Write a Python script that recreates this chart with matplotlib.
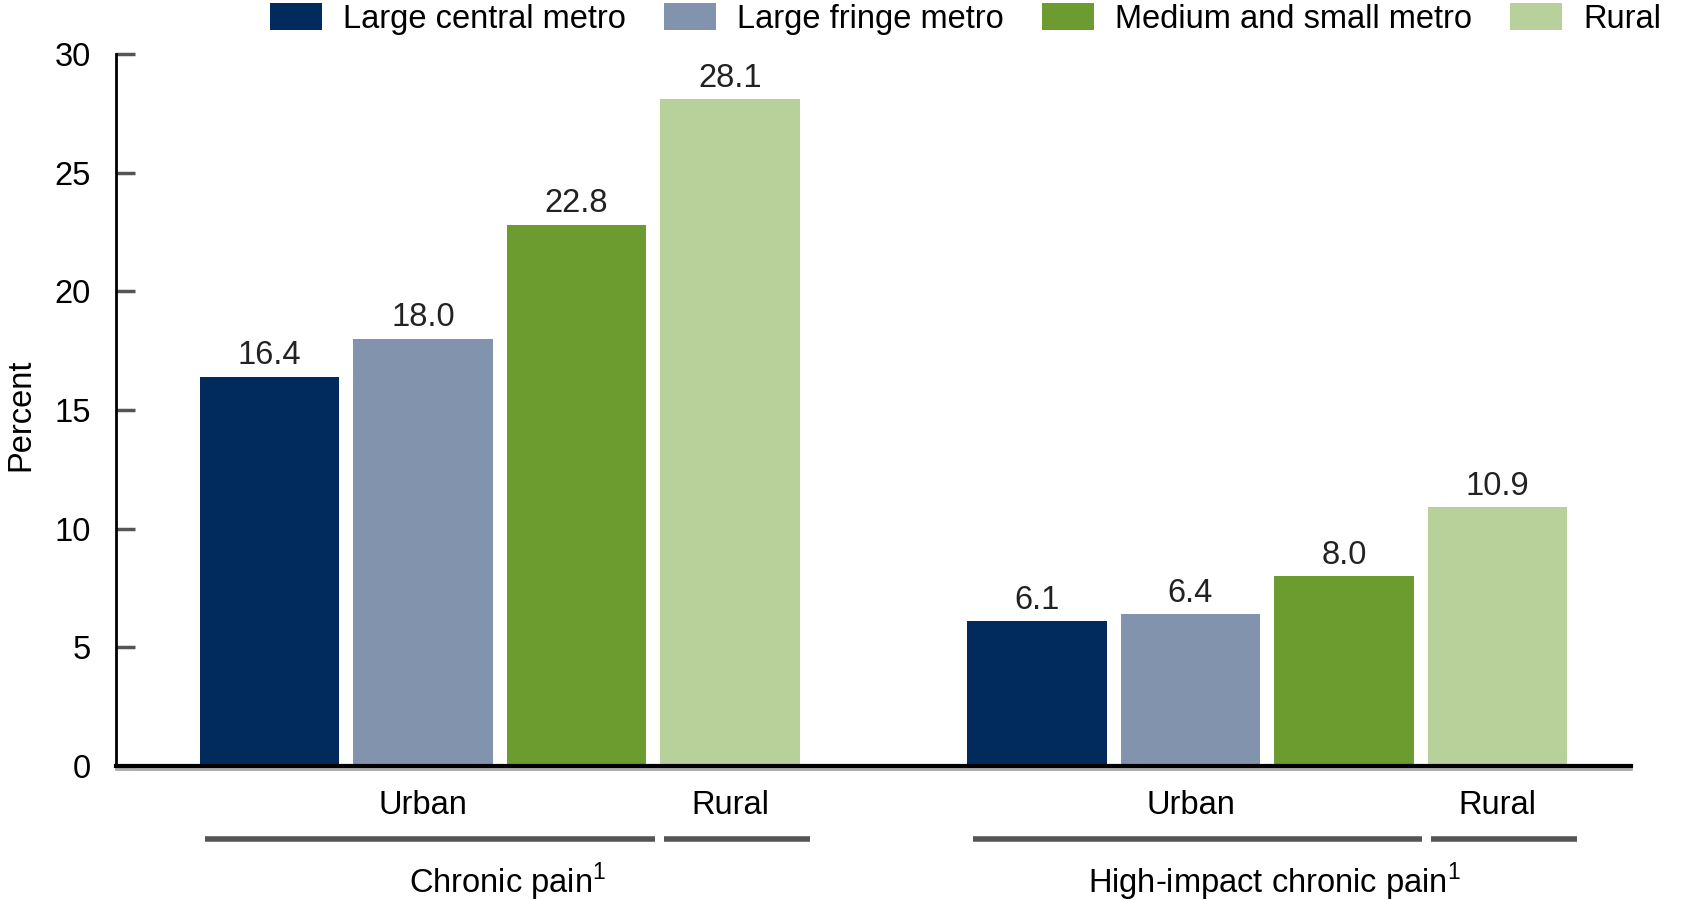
import numpy as np
import matplotlib.pyplot as plt

plt.rcParams['font.family'] = ['Liberation Sans', 'DejaVu Sans']
plt.rcParams['mathtext.fontset'] = 'custom'
plt.rcParams['mathtext.rm'] = 'Liberation Sans'

# Porcentajes por tipo de residencia
series = ["Large central metro", "Large fringe metro", "Medium and small metro", "Rural"]
colores = ["#002b5c", "#8193ad", "#6c9c30", "#b8d09a"]
grupos = ["Chronic pain$^\\mathregular{1}$", "High-impact chronic pain$^\\mathregular{1}$"]
cronico = [16.4, 18.0, 22.8, 28.1]
alto_impacto = [6.1, 6.4, 8.0, 10.9]
valores = np.array([cronico, alto_impacto])

fs = 23.5

fig = plt.figure(figsize=(16.83, 9), dpi=100)
ax = fig.add_axes([116 / 1683, 1 - 766 / 900, 1515 / 1683, 712 / 900])

inicio = np.array([1, 6])
ancho = 0.91
for i, (nombre, color) in enumerate(zip(series, colores)):
    barras = ax.bar(inicio + i, valores[:, i], width=ancho, color=color, label=nombre)
    ax.bar_label(barras, fmt="%.1f", padding=4, fontsize=fs, color="#222222")

ax.set_ylim(0, 30)
ax.set_xlim(0, 9.87)
ax.set_yticks(range(0, 31, 5))
ax.set_xticks([])
ax.tick_params(axis="y", direction="in", length=14, width=2.5, color="#555555",
               pad=18, labelsize=fs)
for lado in ("top", "right"):
    ax.spines[lado].set_visible(False)
ax.spines["left"].set_linewidth(2)
ax.spines["bottom"].set_linewidth(3)
ax.plot([0, 1], [-0.004, -0.004], transform=ax.transAxes, color="#aaaaaa",
        lw=2, clip_on=False)

fig.text(21 / 1683, 1 - 415 / 900, "Percent", rotation=90, ha="center", va="center",
         fontsize=fs)

# Etiquetas de categorias bajo el eje
trans = ax.get_xaxis_transform()
for g, x0 in enumerate(inicio):
    ax.text(x0 + 1, -0.055, "Urban", transform=trans, ha="center", va="center", fontsize=fs)
    ax.text(x0 + 3, -0.055, "Rural", transform=trans, ha="center", va="center", fontsize=fs)
    ax.plot([x0 - 0.42, x0 + 2.51], [-0.1025, -0.1025], transform=trans,
            color="#555555", lw=4, clip_on=False, solid_capstyle="butt")
    ax.plot([x0 + 2.57, x0 + 3.52], [-0.1025, -0.1025], transform=trans,
            color="#555555", lw=4, clip_on=False, solid_capstyle="butt")
    ax.text((x0 - 0.42 + x0 + 3.52) / 2, -0.163, grupos[g], transform=trans,
            ha="center", va="center", fontsize=fs)

fig.legend(loc="upper left", bbox_to_anchor=(270 / 1683, 1 - 3 / 900), ncol=4,
           frameon=False, fontsize=fs, handlelength=1.6, handleheight=0.9,
           handletextpad=0.65, columnspacing=1.15, borderpad=0, borderaxespad=0)

fig.savefig("out.png", dpi=100)
